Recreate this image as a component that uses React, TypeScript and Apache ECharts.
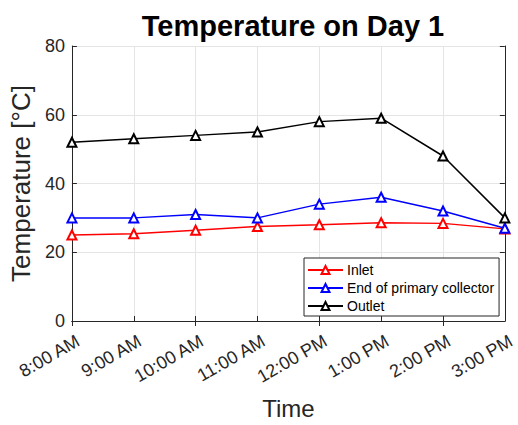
import React, { useEffect, useRef } from "react";
import * as echarts from "echarts";

const categories = ["8:00 AM", "9:00 AM", "10:00 AM", "11:00 AM", "12:00 PM", "1:00 PM", "2:00 PM", "3:00 PM"];
const inlet = [25, 25.4, 26.4, 27.5, 28, 28.6, 28.4, 26.8];
const endPrimary = [30, 30, 31, 30, 34, 36, 32, 27];
const outlet = [52, 53, 54, 55, 58, 59, 48, 30];
const yTicks = [0, 20, 40, 60, 80];

const FONT = "Liberation Sans, Arial, Helvetica, sans-serif";
const AXIS_COLOR = "#262626";

export default function App() {
  const ref = useRef<HTMLDivElement>(null);
  useEffect(() => {
    if (!ref.current) return;
    const chart = echarts.init(ref.current, null, { renderer: "svg" });
    const mk = (name: string, data: number[], color: string) => ({
      name,
      type: "line",
      data,
      xAxisIndex: 0,
      yAxisIndex: 0,
      symbol: "emptyTriangle",
      symbolSize: 9,
      lineStyle: { color, width: 1.5 },
      itemStyle: { color, borderColor: color, borderWidth: 1.5 },
      z: 3,
    });
    chart.setOption({
      animation: false,
      backgroundColor: "#ffffff",
      textStyle: { fontFamily: FONT },
      title: {
        text: "Temperature on Day 1",
        left: 288,
        textAlign: "center",
        top: 6,
        textStyle: { fontFamily: FONT, fontSize: 29, fontWeight: "bold", color: "#000" },
      },
      grid: { left: 67, right: 9, top: 46, bottom: 98, containLabel: false },
      legend: {
        orient: "vertical",
        left: 304,
        top: 258,
        width: 196,
        backgroundColor: "#ffffff",
        borderColor: AXIS_COLOR,
        borderWidth: 1,
        borderRadius: 0,
        padding: [5, 5, 3, 3],
        itemWidth: 35,
        itemHeight: 10,
        itemGap: 4,
        textStyle: { fontFamily: FONT, fontSize: 14, color: "#000", padding: [0, 0, 0, -1] },
        data: ["Inlet", "End of primary collector", "Outlet"],
      },
      xAxis: [
        {
          type: "category",
          data: categories,
          boundaryGap: false,
          position: "bottom",
          axisLine: { show: true, lineStyle: { color: AXIS_COLOR, width: 1 } },
          axisTick: { show: true, inside: true, length: 5, lineStyle: { color: AXIS_COLOR } },
          axisLabel: {
            rotate: 30,
            fontSize: 18,
            color: AXIS_COLOR,
            margin: 22,
            fontFamily: FONT,
            padding: [0, -7, 0, 0],
            interval: 0,
          },
          splitLine: { show: true, lineStyle: { color: "#e5e5e5", width: 1 } },
          name: "Time",
          nameLocation: "middle",
          nameGap: 75,
          nameTextStyle: { fontSize: 24, color: AXIS_COLOR, fontFamily: FONT },
        },
        {
          type: "category",
          data: categories,
          boundaryGap: false,
          position: "top",
          axisLine: { show: true, lineStyle: { color: AXIS_COLOR, width: 1 } },
          axisTick: { show: true, inside: true, length: 5, lineStyle: { color: AXIS_COLOR } },
          axisLabel: { show: false },
          splitLine: { show: false },
        },
      ],
      yAxis: [
        {
          type: "value",
          min: yTicks[0],
          max: yTicks[yTicks.length - 1],
          interval: 20,
          position: "left",
          axisLine: { show: true, lineStyle: { color: AXIS_COLOR, width: 1 } },
          axisTick: { show: true, inside: true, length: 5, lineStyle: { color: AXIS_COLOR } },
          axisLabel: { fontSize: 18, color: AXIS_COLOR, margin: 7, fontFamily: FONT },
          splitLine: { show: true, lineStyle: { color: "#e5e5e5", width: 1 } },
          name: "Temperature [°C]",
          nameLocation: "middle",
          nameGap: 30,
          nameTextStyle: { fontSize: 26, color: AXIS_COLOR, fontFamily: FONT },
        },
        {
          type: "value",
          min: yTicks[0],
          max: yTicks[yTicks.length - 1],
          interval: 20,
          position: "right",
          axisLine: { show: true, lineStyle: { color: AXIS_COLOR, width: 1 } },
          axisTick: { show: true, inside: true, length: 5, lineStyle: { color: AXIS_COLOR } },
          axisLabel: { show: false },
          splitLine: { show: false },
        },
      ],
      series: [
        mk("Inlet", inlet, "#ff0000"),
        mk("End of primary collector", endPrimary, "#0000ff"),
        mk("Outlet", outlet, "#000000"),
      ],
    });
    return () => chart.dispose();
  }, []);
  return <div ref={ref} style={{ width: 518, height: 425, position: "absolute", left: 0, top: 0 }} />;
}
